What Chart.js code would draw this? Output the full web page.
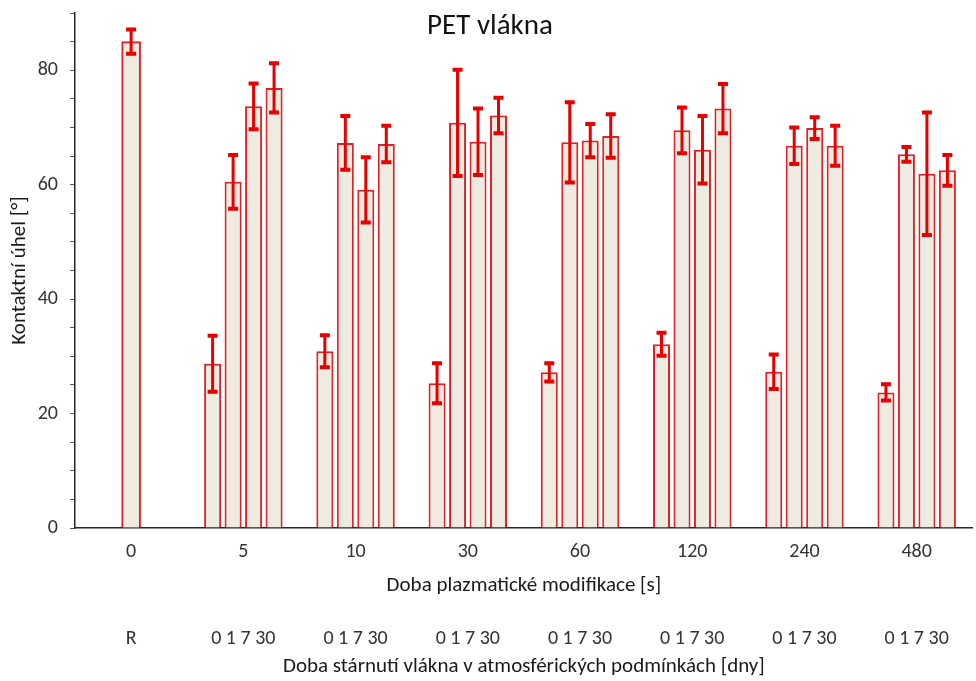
<!DOCTYPE html>
<html>
<head>
<meta charset="utf-8">
<title>PET vlákna</title>
<script src="https://cdn.jsdelivr.net/npm/chart.js@4.4.1/dist/chart.umd.min.js"></script>
<style>
  html, body { margin: 0; padding: 0; background: #ffffff; }
  #wrap { width: 976px; height: 681px; position: relative; }
</style>
</head>
<body>
<div id="wrap"><canvas id="chart" width="976" height="681"></canvas></div>
<script>
// Plasma treatment time [s] – main categories
const plasmaTimes = ['0', '5', '10', '30', '60', '120', '240', '480'];
// Ageing time labels shown under each group
const ageingLabels = ['R', '0 1 7 30', '0 1 7 30', '0 1 7 30', '0 1 7 30', '0 1 7 30', '0 1 7 30', '0 1 7 30'];

// Contact angle [°] – untreated reference fibre
const reference = [85.0, null, null, null, null, null, null, null];
const referenceErr = [2.1, null, null, null, null, null, null, null];

// Contact angle [°] after 0, 1, 7 and 30 days of ageing
const day0  = [null, 28.7, 30.9, 25.3, 27.2, 32.1, 27.3, 23.7];
const day1  = [null, 60.5, 67.3, 70.8, 67.4, 69.5, 66.8, 65.3];
const day7  = [null, 73.7, 59.1, 67.5, 67.7, 66.1, 69.9, 61.9];
const day30 = [null, 76.9, 67.1, 72.1, 68.5, 73.3, 66.8, 62.5];

// Standard deviations [°]
const day0Err  = [null, 4.9, 2.8, 3.5, 1.6, 2.0, 3.0, 1.4];
const day1Err  = [null, 4.7, 4.7, 9.3, 7.0, 4.0, 3.2, 1.3];
const day7Err  = [null, 4.0, 5.7, 5.8, 2.9, 5.9, 1.9, 10.7];
const day30Err = [null, 4.3, 3.2, 3.1, 3.8, 4.3, 3.5, 2.7];

const chartTitle = 'PET vlákna';
const xTitle = 'Doba plazmatické modifikace [s]';
const x2Title = 'Doba stárnutí vlákna v atmosférických podmínkách [dny]';
const yTitle = 'Kontaktní úhel [°]';

const FONT = 'Carlito, Calibri, "Liberation Sans", sans-serif';
const BAR_FILL = '#eeebe1';
const BAR_LINE = '#dc2329';
const ERR_COLOR = '#e60000';

// Draws symmetric error bars on top of every bar, using each dataset's errors
const errorBars = {
  id: 'errorBars',
  afterDatasetsDraw(chart) {
    const { ctx } = chart;
    const yScale = chart.scales.y;
    chart.data.datasets.forEach((ds, d) => {
      const meta = chart.getDatasetMeta(d);
      if (meta.hidden) return;
      meta.data.forEach((bar, i) => {
        const v = ds.data[i];
        const e = ds.errors ? ds.errors[i] : null;
        if (v == null || e == null) return;
        const yHi = yScale.getPixelForValue(v + e);
        const yLo = yScale.getPixelForValue(v - e);
        const x = bar.x;
        const cap = 5;
        ctx.save();
        ctx.strokeStyle = ERR_COLOR;
        ctx.lineCap = 'butt';
        ctx.lineWidth = 3;
        ctx.beginPath();
        ctx.moveTo(x, yHi);
        ctx.lineTo(x, yLo);
        ctx.stroke();
        ctx.lineWidth = 4;
        ctx.beginPath();
        ctx.moveTo(x - cap, yHi);
        ctx.lineTo(x + cap, yHi);
        ctx.moveTo(x - cap, yLo);
        ctx.lineTo(x + cap, yLo);
        ctx.stroke();
        ctx.restore();
      });
    });
  }
};

// Chart title drawn inside the plot area
const innerTitle = {
  id: 'innerTitle',
  afterDraw(chart) {
    const { ctx } = chart;
    ctx.save();
    ctx.font = '29px ' + FONT;
    ctx.fillStyle = '#111111';
    ctx.textAlign = 'center';
    ctx.textBaseline = 'alphabetic';
    ctx.fillText(chartTitle, chart.width / 2 + 2, 34);
    ctx.restore();
  }
};

const barStyle = {
  backgroundColor: BAR_FILL,
  borderColor: BAR_LINE,
  borderWidth: 2,
  categoryPercentage: 0.73,
  barPercentage: 0.83,
  skipNull: true
};

new Chart(document.getElementById('chart'), {
  type: 'bar',
  data: {
    labels: plasmaTimes,
    datasets: [
      Object.assign({ label: 'R', data: reference, errors: referenceErr }, barStyle, { barThickness: 19 }),
      Object.assign({ label: '0', data: day0, errors: day0Err }, barStyle),
      Object.assign({ label: '1', data: day1, errors: day1Err }, barStyle),
      Object.assign({ label: '7', data: day7, errors: day7Err }, barStyle),
      Object.assign({ label: '30', data: day30, errors: day30Err }, barStyle)
    ]
  },
  options: {
    responsive: false,
    animation: false,
    devicePixelRatio: 1,
    layout: { padding: { top: 13, right: 0, left: 0, bottom: 0 } },
    plugins: {
      legend: { display: false },
      title: { display: false },
      tooltip: { enabled: false }
    },
    scales: {
      x: {
        type: 'category',
        position: 'bottom',
        weight: 0,
        offset: true,
        grid: { display: false, drawTicks: false },
        border: { display: true, color: '#262626', width: 1.5 },
        ticks: { color: '#333333', font: { family: FONT, size: 20 }, padding: 12, autoSkip: false, maxRotation: 0 },
        title: { display: true, text: xTitle, color: '#1a1a1a', font: { family: FONT, size: 21 }, padding: { top: 0, bottom: 1.4 } },
        afterFit(scale) { scale.height = 72; }
      },
      x2: {
        type: 'category',
        labels: ageingLabels,
        position: 'bottom',
        weight: 1,
        offset: true,
        grid: { display: false, drawTicks: false },
        border: { display: false },
        ticks: { color: '#333333', font: { family: FONT, size: 20 }, padding: 27, autoSkip: false, maxRotation: 0 },
        title: { display: true, text: x2Title, color: '#1a1a1a', font: { family: FONT, size: 21 }, padding: { top: 0, bottom: 1.4 } },
        afterFit(scale) { scale.height = 81; }
      },
      y: {
        min: 0,
        max: 90,
        grid: { drawOnChartArea: false, drawTicks: true, tickLength: 5, tickColor: '#595959', tickWidth: 1 },
        border: { display: true, color: '#262626', width: 1.5 },
        ticks: {
          stepSize: 5,
          autoSkip: false,
          padding: 12,
          color: '#333333',
          font: { family: FONT, size: 20 },
          callback: (v) => (v % 20 === 0 ? String(v) : '')
        },
        title: { display: true, text: yTitle, color: '#1a1a1a', font: { family: FONT, size: 21 }, padding: { top: 7.4, bottom: 0 } },
        afterFit(scale) {
          scale.width = 75;
          scale.paddingTop = 0;
          scale.paddingBottom = 0;
        }
      }
    }
  },
  plugins: [errorBars, innerTitle]
});
</script>
</body>
</html>
